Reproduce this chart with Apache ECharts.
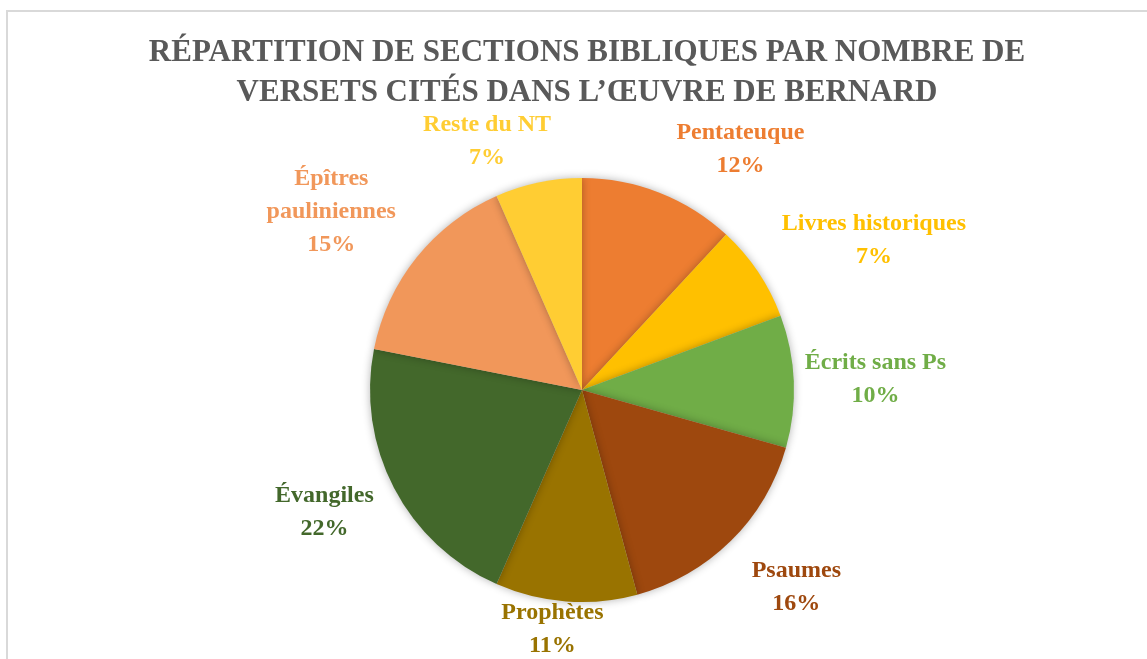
<!DOCTYPE html>
<html>
<head>
<meta charset="utf-8">
<script src="https://cdn.jsdelivr.net/npm/echarts@6/dist/echarts.min.js"></script>
<style>html,body{margin:0;padding:0;background:#fff}#c{width:1147px;height:659px}</style>
</head>
<body>
<div id="c"></div>
<script>
const categories = ['Pentateuque', 'Livres historiques', 'Écrits sans Ps', 'Psaumes', 'Prophètes', 'Évangiles', 'Épîtres\npauliniennes', 'Reste du NT'];
const shares = [11.9, 7.4, 10.1, 16.4, 10.8, 21.5, 15.3, 6.6];
const colors = ['#ED7D31', '#FFC000', '#70AD47', '#9E480E', '#997300', '#43682B', '#F1975A', '#FFCD33'];
// label nudges (layout only)
const labelNudge = [[54,-3],[31,-8],[1,0],[27,16],[-9,-15],[-17,4],[-27,-8],[-36,1]];

const CX = 582, CY = 390, R = 212, GAP = 10;
const total = shares.reduce((a,b)=>a+b,0);
const mids = [];
let acc = 0;
shares.forEach(v => { mids.push((acc + v/2) / total * 2 * Math.PI); acc += v; });

const chart = echarts.init(document.getElementById('c'), null, {renderer:'canvas'});
const font = '"Liberation Serif", "Times New Roman", serif';
chart.setOption({
  animation: false,
  graphic: [{
    type: 'rect', shape: {x: 7, y: 11, width: 1160, height: 680},
    style: {fill: 'none', stroke: '#d9d9d9', lineWidth: 2}, silent: true, z: -1
  }],
  title: {
    text: 'RÉPARTITION DE SECTIONS BIBLIQUES PAR NOMBRE DE\nVERSETS CITÉS DANS L\u2019ŒUVRE DE BERNARD',
    left: 582, top: 28, textAlign: 'center',
    textStyle: {fontFamily: font, fontWeight: 'bold', fontSize: 31, lineHeight: 40, color: '#595959'}
  },
  series: [{
    type: 'pie',
    center: [CX, CY],
    radius: [0, R],
    startAngle: 90,
    clockwise: true,
    data: categories.map((n, i) => ({name: n, value: shares[i], itemStyle: {color: colors[i]}, label: {color: colors[i]}})),
    itemStyle: {shadowBlur: 8, shadowColor: 'rgba(0,0,0,0.3)', borderWidth: 0},
    label: {
      show: true, position: 'outside',
      formatter: p => p.name + '\n' + Math.round(p.percent) + '%',
      fontFamily: font, fontWeight: 'bold', fontSize: 24, lineHeight: 33, align: 'center'
    },
    labelLine: {show: false},
    labelLayout: function (p) {
      const i = p.dataIndex;
      const a = mids[i];
      const ux = Math.sin(a), uy = -Math.cos(a);
      const w = p.labelRect.width, h = p.labelRect.height;
      return {
        x: CX + ux * (R + GAP) + ux * w / 2 + labelNudge[i][0],
        y: CY + uy * (R + GAP) + uy * h / 2 + labelNudge[i][1],
        align: 'center', verticalAlign: 'middle'
      };
    }
  }]
});
</script>
</body>
</html>
